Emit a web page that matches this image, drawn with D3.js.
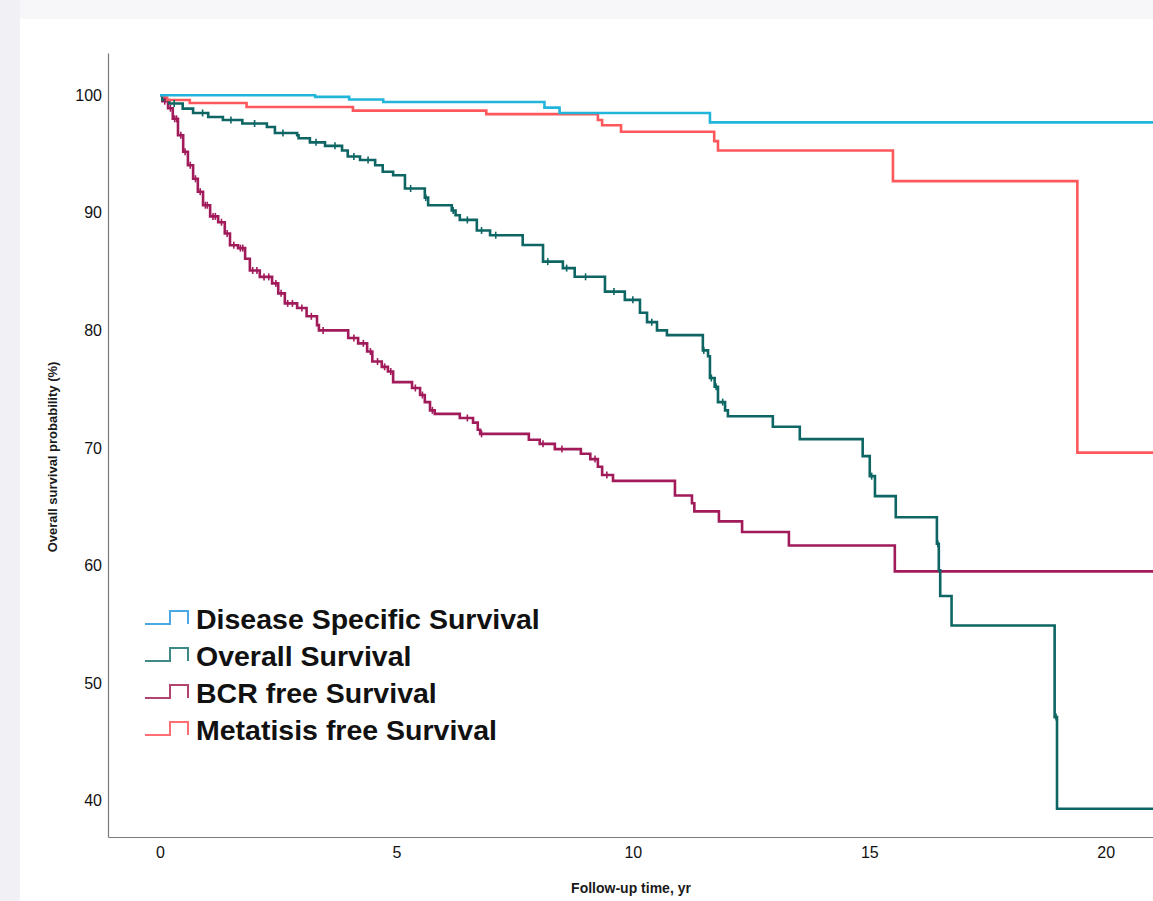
<!DOCTYPE html>
<html>
<head>
<meta charset="utf-8">
<title>Survival curves</title>
<style>
  html, body { margin: 0; padding: 0; background: #f4f3f7; }
  svg { display: block; font-family: "Liberation Sans", Arial, sans-serif; }
</style>
</head>
<body>
<script src="https://cdn.jsdelivr.net/npm/d3@7"></script>
<script>
// step points [time (yr), survival (%)]
var dssSteps = [[0,100],[3.28,99.87],[4.0,99.65],[4.72,99.43],[8.13,98.95],[8.45,98.5],[11.63,97.7]];
var osSteps = [[0,100],[0.05,99.6],[0.2,99.3],[0.48,98.87],[0.7,98.5],[1.02,98.16],[1.33,97.9],[1.74,97.6],
  [2.26,97.3],[2.43,96.8],[2.9,96.6],[2.93,96.35],[3.17,96.0],[3.49,95.7],[3.85,95.3],[3.97,94.8],[4.23,94.5],
  [4.55,94.05],[4.71,93.5],[4.93,93.2],[5.18,92.07],[5.6,91.3],[5.67,90.65],[6.17,90.2],[6.25,89.8],[6.34,89.4],
  [6.7,88.5],[6.98,88.1],[7.67,87.26],[8.1,85.85],[8.52,85.3],[8.77,84.56],[9.41,83.3],[9.83,82.6],[10.15,81.5],
  [10.3,80.7],[10.51,80.0],[10.72,79.6],[11.48,78.3],[11.59,77.8],[11.63,75.95],[11.73,75.2],[11.8,73.9],
  [11.95,73.2],[12.01,72.7],[12.96,71.8],[13.53,70.75],[14.86,69.3],[15.01,67.6],[15.12,65.9],[15.56,64.1],
  [16.43,61.85],[16.47,59.6],[16.5,57.4],[16.74,54.9],[18.92,47.1],[18.97,39.3]];
var bcrSteps = [[0,100],[0.05,99.5],[0.17,98.9],[0.27,98.0],[0.38,96.6],[0.49,95.2],[0.59,94.05],[0.7,92.9],
  [0.8,91.8],[0.91,90.65],[1.06,89.7],[1.23,89.2],[1.37,88.25],[1.48,87.25],[1.65,87.0],[1.8,86.1],[1.9,85.1],
  [2.11,84.55],[2.37,84.0],[2.5,83.15],[2.64,82.3],[2.9,81.9],[3.1,81.2],[3.32,80.45],[3.36,80.0],[3.98,79.35],
  [4.19,78.9],[4.38,78.2],[4.49,77.35],[4.69,76.9],[4.82,76.5],[4.93,75.6],[5.33,75.1],[5.5,74.5],[5.6,73.9],
  [5.71,73.2],[5.81,72.9],[6.34,72.55],[6.62,72.15],[6.72,71.55],[6.77,71.2],[7.8,70.7],[8.03,70.35],[8.35,69.9],
  [8.9,69.5],[9.1,69.05],[9.26,68.4],[9.35,67.7],[9.58,67.2],[10.89,65.95],[11.25,65.3],[11.3,64.6],[11.82,63.75],
  [12.31,62.85],[13.3,61.7],[15.54,59.5]];
var mfsSteps = [[0,100],[0.1,99.8],[0.15,99.6],[0.63,99.35],[1.83,99.0],[4.08,98.7],[6.9,98.4],[9.26,97.9],
  [9.35,97.45],[9.75,96.9],[11.72,96.1],[11.8,95.3],[15.5,92.7],[19.4,69.6]];

// censoring marks (times)
var bcrCensor = [0.1,0.22,0.31,0.35,0.44,0.53,0.64,0.75,0.85,0.96,1.0,1.12,1.17,1.3,1.42,1.56,1.7,1.75,1.96,2.05,
  2.2,2.3,2.45,2.56,2.7,2.8,3.0,3.2,3.45,4.1,4.3,4.45,4.6,4.75,4.88,5.4,5.55,5.76,6.5,6.8,8.1,8.5,9.2,9.45];
var osCensor = [0.3,0.9,1.5,2.0,2.6,3.3,3.7,4.1,4.4,5.3,5.62,6.2,6.5,6.8,7.1,8.2,8.6,9.0,9.6,10.0,10.4,11.5,
  11.66,11.76,11.9,15.05,16.45,18.95];

var seriesNames = ["Disease Specific Survival", "Overall Survival", "BCR free Survival", "Metatisis free Survival"];
var seriesColors = ["#22b5dc", "#0d6663", "#a11a5a", "#ff585c"];
var legendColors = ["#4aa8e6", "#3f8a86", "#b2456f", "#ff6e72"];
var xTicks = [0, 5, 10, 15, 20];
var yTicks = [40, 50, 60, 70, 80, 90, 100];
var endTime = 21.2;

var width = 1153, height = 901;
var svg = d3.select("body").append("svg").attr("width", width).attr("height", height);

svg.append("rect").attr("x", 0).attr("y", 0).attr("width", width).attr("height", 19).attr("fill", "#f7f6f9");
svg.append("rect").attr("x", 0).attr("y", 0).attr("width", 20).attr("height", height).attr("fill", "#f1f0f5");
svg.append("rect").attr("x", 20).attr("y", 19).attr("width", width - 20).attr("height", height - 19).attr("fill", "#fff");

var x = d3.scaleLinear().domain([-1.1, 21]).range([108, 1153]);
var y = d3.scaleLinear().domain([36.9, 103.6]).range([837, 53]);

// axes
var yAxis = svg.append("g").attr("transform", "translate(108,0)")
  .call(d3.axisLeft(y).tickValues(yTicks).tickSize(0).tickSizeOuter(0).tickPadding(6));
var xAxis = svg.append("g").attr("transform", "translate(0,837)")
  .call(d3.axisBottom(x).tickValues(xTicks).tickSize(0).tickSizeOuter(0).tickPadding(10));
[xAxis, yAxis].forEach(function(a) {
  a.select(".domain").attr("stroke", "#7a7a7a").attr("stroke-width", 1.2);
  a.selectAll("text").attr("font-size", 16).attr("fill", "#111").attr("font-family", "Liberation Sans, Arial, sans-serif");
});

svg.append("text").attr("transform", "translate(57,457) rotate(-90)")
  .attr("text-anchor", "middle").attr("font-size", 13).attr("font-weight", "bold").attr("fill", "#1a1a1a")
  .text("Overall survival probability (%)");
svg.append("text").attr("x", 631).attr("y", 893)
  .attr("text-anchor", "middle").attr("font-size", 14).attr("font-weight", "bold").attr("fill", "#1a1a1a")
  .text("Follow-up time, yr");

// curves
var line = d3.line().x(function(d) { return x(d[0]); }).y(function(d) { return y(d[1]); }).curve(d3.curveStepAfter);
function withEnd(steps) {
  return steps.concat([[endTime, steps[steps.length - 1][1]]]);
}
function valueAt(steps, t) {
  var v = steps[0][1];
  steps.forEach(function(s) { if (s[0] <= t) v = s[1]; });
  return v;
}

var allSteps = [dssSteps, osSteps, bcrSteps, mfsSteps];
var drawOrder = [2, 1, 3, 0];
drawOrder.forEach(function(i) {
  svg.append("path").datum(withEnd(allSteps[i]))
    .attr("fill", "none").attr("stroke", seriesColors[i]).attr("stroke-width", 2.6)
    .attr("d", line);
});

function censorMarks(steps, times, color) {
  svg.append("g").selectAll("line").data(times).join("line")
    .attr("x1", function(t) { return x(t); }).attr("x2", function(t) { return x(t); })
    .attr("y1", function(t) { return y(valueAt(steps, t)) - 3.5; })
    .attr("y2", function(t) { return y(valueAt(steps, t)) + 3.5; })
    .attr("stroke", color).attr("stroke-width", 1.6);
}
censorMarks(bcrSteps, bcrCensor, seriesColors[2]);
censorMarks(osSteps, osCensor, seriesColors[1]);

// legend
var legendBase = [629, 666, 703, 740];
seriesNames.forEach(function(name, i) {
  var b = legendBase[i] - 5;
  svg.append("path")
    .attr("d", "M145," + b + "H170V" + (b - 13) + "H188V" + b)
    .attr("fill", "none").attr("stroke", legendColors[i]).attr("stroke-width", 2);
  svg.append("text").attr("x", 196).attr("y", legendBase[i])
    .attr("font-size", 28.5).attr("font-weight", "bold").attr("fill", "#111")
    .text(name);
});
</script>
</body>
</html>
